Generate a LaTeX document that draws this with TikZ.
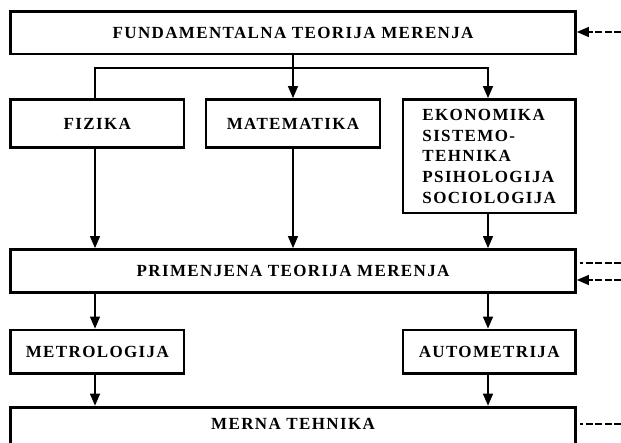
\documentclass[tikz,border=0pt]{standalone}
\usepackage{fontspec}
\setmainfont{Liberation Serif}[LetterSpace=8]
\usetikzlibrary{arrows.meta}
\tikzset{
  box/.style={draw, line width=2.8pt, inner sep=0pt, font=\bfseries\fontsize{17}{20.7}\selectfont,
              text height=11.5pt, text depth=0pt},
  conn/.style={line width=1.3pt},
  flow/.style={conn, -{Triangle[length=12pt,width=10pt]}},
  feed/.style={line width=1.3pt, dash pattern=on 7pt off 2.5pt},
  feedin/.style={feed, -{Triangle[length=12pt,width=10pt]}}
}
\begin{document}
\begin{tikzpicture}[x=1pt,y=-1pt]
\useasboundingbox (0,0) rectangle (621,443);
\clip (0,0) rectangle (621,443);

% columns of the vertical connectors
\coordinate (colL) at (95,0);
\coordinate (colM) at (293,0);
\coordinate (colR) at (488,0);

% boxes
\node[box, minimum width=564.8pt, minimum height=42.7pt] (fund) at (293.1,32.65) {FUNDAMENTALNA TEORIJA MERENJA};
\node[box, minimum width=173.3pt, minimum height=48pt] (fiz) at (97.35,123.5) {FIZIKA};
\node[box, minimum width=174pt, minimum height=48pt] (mat) at (293,123.5) {MATEMATIKA};
\node[box, minimum width=172.5pt, minimum height=113.5pt, align=left, text height=, text depth=] (eko) at (489.25,156.25)
  {EKONOMIKA\\SISTEMO-\\TEHNIKA\\PSIHOLOGIJA\\SOCIOLOGIJA};
\node[box, minimum width=564.8pt, minimum height=43pt] (prim) at (293.1,271) {PRIMENJENA TEORIJA MERENJA};
\node[box, minimum width=173.3pt, minimum height=43.3pt] (metro) at (97.35,351.65) {METROLOGIJA};
\node[box, minimum width=172.5pt, minimum height=43.3pt] (auto) at (489.25,351.65) {AUTOMETRIJA};
\node[box, anchor=north, minimum width=564.8pt, inner ysep=11.3pt, text depth=10pt] (merna) at (293.1,405.7) {MERNA TEHNIKA};

% branching from the fundamental theory
\coordinate (split) at (293,68);
\draw[flow] (fund.south -| colM) -- (mat.north -| colM);
\draw[conn] (split) -| (fiz.north -| colL);
\draw[flow] (split) -| (eko.north -| colR);

% into the applied theory
\draw[flow] (fiz.south -| colL) -- (prim.north -| colL);
\draw[flow] (mat.south -| colM) -- (prim.north -| colM);
\draw[flow] (eko.south -| colR) -- (prim.north -| colR);

% down to metrology and autometry
\draw[flow] (prim.south -| colL) -- (metro.north -| colL);
\draw[flow] (prim.south -| colR) -- (auto.north -| colR);
\draw[flow] (metro.south -| colL) -- (merna.north -| colL);
\draw[flow] (auto.south -| colR) -- (merna.north -| colR);

% external links on the right
\coordinate (ext1) at (621,32);
\coordinate (ext2) at (621,263);
\coordinate (ext3) at (621,280);
\coordinate (ext4) at (621,424);
\draw[feedin] (ext1) -- (fund.east |- ext1);
\draw[feed] (ext2) -- ([xshift=3pt]prim.east |- ext2);
\draw[feedin] (ext3) -- (prim.east |- ext3);
\draw[feed] (ext4) -- ([xshift=3pt]merna.east |- ext4);
\end{tikzpicture}
\end{document}
